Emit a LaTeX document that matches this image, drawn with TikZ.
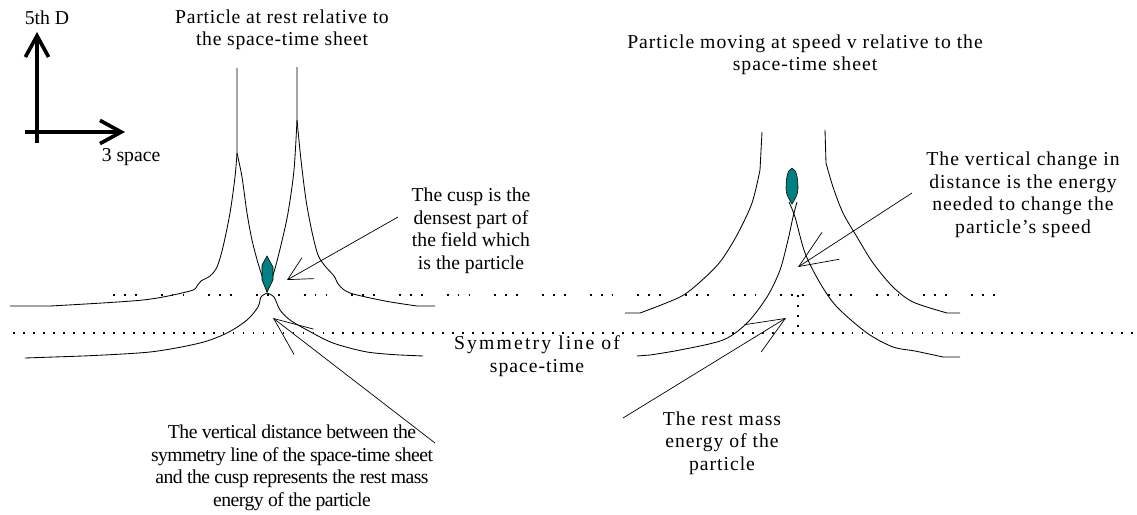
\documentclass[tikz,border=0pt]{standalone}
\usepackage{fontspec}
\setmainfont{Liberation Serif}
\usetikzlibrary{arrows.meta,positioning}
\definecolor{cuspteal}{RGB}{0,128,128}

\tikzset{
  sheet/.style={line width=0.6pt},
  axis/.style={line width=2.6pt,-{Straight Barb[length=5.3mm,width=5.8mm]}},
  pointer/.style={line width=0.5pt,-{Straight Barb[length=9.5mm,width=8mm]}},
  smallpointer/.style={line width=0.5pt,-{Straight Barb[length=5.8mm,width=6mm]}},
  note/.style={align=center,inner sep=0pt},
  wide/.style={font=\fontsize{14}{16}\selectfont\addfontfeature{LetterSpace=#1}},
  particle/.style={fill=cuspteal,draw=black,line width=0.4pt},
  groupdots/.style={line width=1.3pt,dash pattern=on 1.3pt off 6.5pt on 1.3pt off 6.5pt on 1.3pt off 17pt},
  plaindots/.style={line width=1.3pt,dash pattern=on 1.3pt off 5.8pt}
}

\begin{document}
\begin{tikzpicture}[x=0.025cm,y=-0.025cm,font=\fontsize{14}{16}\selectfont]
  \useasboundingbox (0,0) rectangle (1137,514);

  % axes
  \coordinate (vbot) at (37,143);
  \coordinate (vtop) at (37,32);
  \coordinate (hleft) at (25,132);
  \coordinate (hright) at (125,132);
  \draw[axis] (vbot) -- (vtop);
  \draw[axis] (hleft) -- (hright);
  \node[note] (fifthd) at (47,18) {5th D};
  \node[note] (threesp) at (131,157) {3 space};

  % titles
  \node[note,wide=3.7] (resttitle) at (282,30) {Particle at rest relative to\\the space-time sheet};
  \node[note,wide=5] (movetitle) at (805,55) {Particle moving at speed v relative to the\\space-time sheet};

  % dotted levels
  \draw[groupdots] (113,295) -- (995,295);
  \draw[plaindots] (13,333) -- (1137,333);
  \draw[plaindots] (798,295) -- (798,333);

  % sheet with particle at rest
  \draw[sheet] (10,306) -- plot[smooth] coordinates {(50,306) (143,300) (190,291) (197,286) (201,281) (210,276) (217,267) (223,247) (230,213) (235,177) (237,153)} -- (237,68);
  \draw[sheet] plot[smooth] coordinates {(237,153) (242,177) (247,213) (252,240) (258,263) (264,282) (267,292)};
  \draw[sheet] (297,67) -- plot[smooth] coordinates {(297,120) (294,170) (288,213) (281,245) (274,272) (267,292)};
  \draw[sheet] plot[smooth] coordinates {(297,120) (301,160) (306,200) (312,232) (318,255) (325,266) (334,276) (339,285) (350,293) (385,301) (417,306)} -- (435,306);
  \draw[sheet] plot[smooth] coordinates {(267,293) (261,297) (258,307) (247,320) (227,333) (200,343) (150,352) (83,356)} -- (25,358);
  \draw[sheet] plot[smooth] coordinates {(267,293) (274,297) (280,310) (290,320) (307,330) (333,343) (367,352) (400,355)} -- (423,356);
  \filldraw[particle] (267,256) -- (273,267) -- (273,280) -- (267,292) -- (262,280) -- (262,265) -- cycle;

  % sheet with moving particle
  \draw[sheet] (625,313) -- plot[smooth] coordinates {(640,313) (680,297) (700,282) (720,262) (737,235) (752,203) (760,170)} -- (762,132);
  \draw[sheet] (825,130) -- plot[smooth] coordinates {(826,163) (833,187) (843,213) (857,237) (873,263) (893,287) (913,302) (947,313)} -- (960,313);
  \draw[sheet] plot[smooth] coordinates {(797,202) (793,217) (788,240) (780,270) (767,297) (747,323) (723,340) (680,350) (650,355)} -- (637,356);
  \draw[sheet] plot[smooth] coordinates {(789,202) (795,217) (805,253) (820,283) (837,307) (867,333) (893,347) (915,351) (943,357)} -- (960,357);
  \filldraw[particle] (792,168) .. controls (797,170) and (798,180) .. (798,188)
    .. controls (798,195) and (795,199) .. (792,204)
    .. controls (789,199) and (786,195) .. (786,188)
    .. controls (786,180) and (787,170) .. (792,168) -- cycle;

  % labels
  \node[note] (cusptext) at (471,231) {The cusp is the\\densest part of\\the field which\\is the particle};
  \node[note,wide=5] (symtext) at (537,356) {{\addfontfeature{LetterSpace=11}Symmetry line of}\\space-time};
  \node[note,wide=-2.8] (vdisttext) at (292,468) {The vertical distance between the\\symmetry line of the space-time sheet\\and the cusp represents the rest mass\\energy of the particle};
  \node[note,wide=5] (restmass) at (722,443) {The rest mass\\energy of the\\particle};
  \node[note,wide=5] (changetext) at (1023,195) {The vertical change in\\distance is the energy\\needed to change the\\particle's speed};

  % pointers
  \coordinate (cuspfrom) at (398,217);
  \coordinate (cusptip) at (287,280);
  \coordinate (vdistfrom) at (435,443);
  \coordinate (vdisttip) at (273,318);
  \coordinate (restfrom) at (623,418);
  \coordinate (resttip) at (786,318);
  \coordinate (changefrom) at (912,193);
  \coordinate (changetip) at (798,267);
  \draw[smallpointer] (cuspfrom) -- (cusptip);
  \draw[pointer] (vdistfrom) -- (vdisttip);
  \draw[pointer] (restfrom) -- (resttip);
  \draw[pointer] (changefrom) -- (changetip);
\end{tikzpicture}
\end{document}
